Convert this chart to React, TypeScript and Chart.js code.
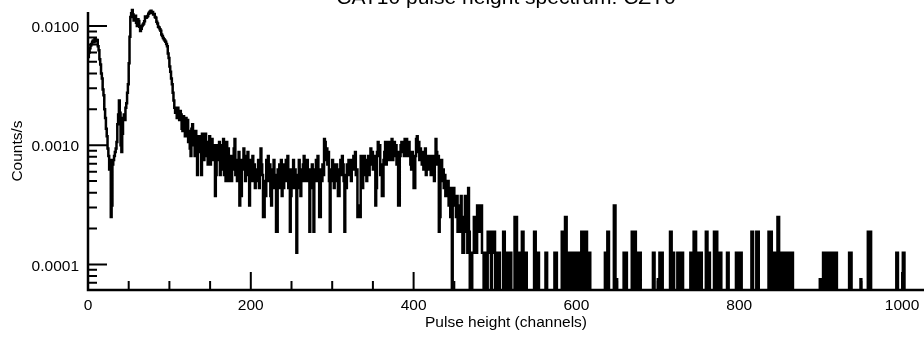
import { useEffect, useRef } from "react";
import { Chart, registerables } from "chart.js";

Chart.register(...registerables);

const TITLE = "CAT10 pulse height spectrum: CZT0";
const X_LABEL = "Pulse height (channels)";
const Y_LABEL = "Counts/s";

const X_TICKS = [0, 200, 400, 600, 800, 1000];
const X_MINOR = [50, 100, 150, 250, 300, 350, 450, 500, 550, 650, 700, 750, 850, 900, 950];
const Y_TICKS = [0.0001, 0.001, 0.01];
const Y_MINOR = [
  7e-5, 8e-5, 9e-5,
  2e-4, 3e-4, 4e-4, 5e-4, 6e-4, 7e-4, 8e-4, 9e-4,
  2e-3, 3e-3, 4e-3, 5e-3, 6e-3, 7e-3, 8e-3, 9e-3,
];

const X_MIN = 0;
const X_MAX = 1027;
const Y_MIN = 6.1e-5;
const Y_MAX = 0.0131;

const N_CHANNELS = 1005;
const RATE_PER_COUNT = 6.25e-5; // counts/s per recorded count
const BELOW_AXIS = 1e-6; // empty channels fall below the axis

// counts per channel, channels 0-127
const PEAK_COUNTS = [
  88, 96, 104, 110, 113, 118, 121, 117, 126, 123, 119, 122, 108, 100, 84, 76,
  64, 58, 47, 42, 32, 27, 22, 19, 15, 13, 10, 12, 4, 5, 11, 12,
  13, 14, 15, 17, 24, 29, 38, 30, 16, 14, 20, 27, 29, 26, 33, 36,
  44, 52, 78, 130, 190, 205, 218, 200, 178, 190, 195, 170, 160, 182, 176, 158,
  145, 152, 160, 164, 168, 175, 192, 188, 190, 194, 203, 208, 212, 215, 206, 210,
  200, 202, 190, 188, 174, 168, 158, 155, 150, 146, 136, 132, 127, 124, 121, 118,
  113, 108, 94, 86, 73, 66, 58, 52, 44, 38, 33, 30, 31, 27, 33, 30,
  26, 31, 29, 22, 21, 28, 25, 19, 27, 20, 26, 17, 21, 15, 13, 22,
];

// channels 128-255
const CONTINUUM_COUNTS = [
  24, 16, 18, 13, 21, 16, 9, 18, 19, 14, 15, 9, 20, 16, 12, 18,
  20, 13, 15, 11, 17, 19, 11, 14, 18, 12, 14, 16, 6, 9, 16, 14,
  12, 17, 9, 15, 10, 16, 18, 9, 13, 8, 17, 12, 15, 8, 11, 13,
  8, 13, 10, 15, 18, 9, 12, 8, 11, 14, 5, 9, 6, 12, 10, 15,
  13, 8, 12, 9, 14, 10, 5, 9, 12, 8, 13, 10, 11, 7, 10, 8,
  9, 12, 7, 10, 15, 11, 9, 4, 4, 8, 6, 12, 9, 13, 8, 11,
  6, 5, 10, 8, 12, 7, 9, 3, 3, 10, 7, 11, 8, 12, 6, 9,
  7, 11, 8, 12, 9, 13, 7, 10, 3, 6, 10, 8, 12, 7, 10, 9,
];

// channels 256-384
const HUMP_RISE_COUNTS = [
  2, 9, 7, 12, 9, 6, 10, 8, 11, 13, 8, 11, 9, 12, 8, 10,
  3, 10, 7, 11, 9, 3, 10, 8, 12, 9, 13, 8, 4, 4, 10, 8,
  11, 9, 18, 17, 12, 15, 11, 14, 8, 3, 10, 8, 12, 9, 7, 11,
  9, 11, 8, 6, 6, 10, 12, 9, 13, 11, 8, 3, 9, 7, 11, 9, 12,
  9, 11, 8, 12, 10, 13, 11, 14, 9, 10, 4, 4, 5, 4, 13, 10,
  7, 11, 13, 9, 12, 8, 10, 13, 9, 12, 15, 11, 14, 10, 13, 11,
  5, 7, 14, 17, 13, 16, 9, 11, 6, 6, 12, 14, 17, 11, 13, 17,
  17, 12, 15, 13, 18, 12, 15, 17, 13, 16, 11, 14, 5, 5, 13, 16,
];

// channels 385-512
const HUMP_FALL_COUNTS = [
  17, 14, 16, 13, 18, 15, 18, 13, 16, 17, 14, 11, 10, 14, 12, 7,
  7, 13, 18, 19, 14, 17, 12, 15, 13, 11, 14, 10, 13, 15, 9, 12,
  11, 13, 10, 12, 9, 13, 10, 12, 8, 13, 18, 14, 11, 13, 3, 4,
  10, 12, 8, 10, 7, 9, 6, 8, 6, 8, 5, 7, 4, 5, 0, 7,
  7, 5, 6, 4, 6, 3, 3, 5, 4, 6, 3, 2, 2, 4, 6, 5,
  3, 2, 7, 3, 0, 0, 0, 2, 2, 4, 4, 2, 2, 5, 5, 3,
  3, 4, 5, 2, 2, 0, 0, 2, 2, 0, 3, 2, 3, 3, 0, 3,
  3, 2, 3, 0, 2, 2, 0, 2, 2, 0, 0, 0, 0, 3, 3, 2,
];

// sparse high-channel events (all other channels above 512 are empty)
const TAIL_CHANNELS = [
  514, 515, 517, 519, 524, 525, 526, 528, 529, 531, 533, 534, 536, 538,
  548, 549, 551, 553, 562, 563, 573, 575, 582, 583, 586, 587, 589, 591,
  593, 594, 596, 598, 600, 602, 604, 606, 607, 609, 610, 612, 613, 615, 616,
  635, 636, 638, 639, 646, 647, 649, 658, 659, 661,
  668, 669, 671, 672, 674, 676, 678, 694, 695, 700, 702, 703, 705,
  715, 716, 718, 719, 724, 726, 728, 730, 740, 742, 744, 745, 746, 749, 751, 753,
  759, 760, 761, 763, 769, 770, 772, 773, 775, 777, 785, 786, 796, 798, 800, 802,
  815, 816, 821, 823, 836, 837, 839, 841, 843, 845, 847, 848, 849, 851, 853, 855,
  859, 861, 863, 865, 899, 903, 905, 907, 909, 913, 915, 917, 919,
  935, 937, 949, 958, 959, 961, 993, 994, 1001, 1002,
];
const TAIL_COUNTS = [
  2, 2, 2, 2, 4, 2, 4, 2, 2, 2, 3, 3, 2, 2,
  3, 3, 2, 2, 2, 2, 2, 2, 3, 3, 4, 4, 2, 2,
  2, 2, 2, 2, 2, 2, 2, 3, 3, 3, 3, 3, 2, 2, 2,
  2, 2, 3, 3, 5, 5, 1.2, 2, 2, 2,
  3, 3, 3, 3, 2, 2, 2, 2, 2, 1.2, 2, 2, 2,
  3, 3, 2, 2, 2, 2, 2, 2, 2, 2, 3, 3, 3, 2, 2, 2,
  3, 3, 2, 2, 3, 3, 3, 2, 2, 2, 2, 2, 2, 2, 2, 2,
  3, 3, 3, 3, 3, 3, 3, 2, 2, 2, 4, 4, 2, 2, 2, 2,
  2, 2, 2, 2, 1.2, 2, 2, 2, 2, 2, 2, 2, 2,
  2, 2, 1.2, 3, 3, 3, 2, 2, 2, 2,
];

const FONT = "'Liberation Sans', Arial, Helvetica, sans-serif";
Chart.defaults.font.family = FONT;
Chart.defaults.color = "#000";

const axesPlugin = {
  id: "insideAxes",
  afterDraw(chart: any) {
    const { ctx, chartArea: a, scales } = chart;
    const xs = scales.x;
    const ys = scales.y;
    ctx.save();
    ctx.strokeStyle = "#000";
    ctx.lineWidth = 2.5;
    ctx.lineCap = "butt";
    ctx.beginPath();
    ctx.moveTo(a.left, a.top);
    ctx.lineTo(a.left, a.bottom);
    ctx.lineTo(a.right, a.bottom);
    ctx.stroke();
    ctx.lineWidth = 2;
    ctx.beginPath();
    for (const v of Y_TICKS) {
      const y = ys.getPixelForValue(v);
      ctx.moveTo(a.left, y);
      ctx.lineTo(a.left + 19, y);
    }
    for (const v of Y_MINOR) {
      const y = ys.getPixelForValue(v);
      ctx.moveTo(a.left, y);
      ctx.lineTo(a.left + 9, y);
    }
    for (const v of X_TICKS) {
      const x = xs.getPixelForValue(v);
      ctx.moveTo(x, a.bottom);
      ctx.lineTo(x, a.bottom - 18);
    }
    for (const v of X_MINOR) {
      const x = xs.getPixelForValue(v);
      ctx.moveTo(x, a.bottom);
      ctx.lineTo(x, a.bottom - 9);
    }
    ctx.stroke();
    ctx.fillStyle = "#000";
    ctx.font = `21px ${FONT}`;
    ctx.textAlign = "center";
    ctx.textBaseline = "alphabetic";
    ctx.fillText(TITLE, (a.left + a.right) / 2, 4);
    ctx.restore();
  },
};

export default function App() {
  const ref = useRef<HTMLCanvasElement>(null);
  useEffect(() => {
    document.body.style.margin = "0";
    const main = [...PEAK_COUNTS, ...CONTINUUM_COUNTS, ...HUMP_RISE_COUNTS, ...HUMP_FALL_COUNTS];
    const counts: number[] = new Array(N_CHANNELS).fill(0);
    main.forEach((c, i) => {
      counts[i] = c;
    });
    TAIL_CHANNELS.forEach((ch, k) => {
      counts[ch] = TAIL_COUNTS[k];
    });
    const points = counts.map((c, ch) => ({
      x: ch,
      y: c > 0 ? c * RATE_PER_COUNT : BELOW_AXIS,
    }));
    const chart = new Chart(ref.current!, {
      type: "line",
      data: {
        datasets: [
          {
            data: points,
            stepped: true,
            borderColor: "#000",
            borderWidth: 2.5,
            pointRadius: 0,
            fill: false,
            clip: { left: 0, top: 6, right: 0, bottom: 0 } as any,
          },
        ],
      },
      plugins: [axesPlugin],
      options: {
        animation: false,
        responsive: false,
        devicePixelRatio: 1,
        events: [],
        layout: { padding: { top: 12, left: 0, right: 0, bottom: 0 } },
        plugins: { legend: { display: false }, tooltip: { enabled: false }, title: { display: false } },
        scales: {
          x: {
            type: "linear",
            min: X_MIN,
            max: X_MAX,
            afterBuildTicks: (s: any) => {
              s.ticks = X_TICKS.map((v) => ({ value: v }));
            },
            afterFit: (s: any) => {
              s.height = 47;
              s.paddingLeft = 0;
              s.paddingRight = 0;
            },
            grid: { display: false, drawTicks: false },
            border: { display: false },
            ticks: {
              autoSkip: false,
              maxRotation: 0,
              padding: 6,
              color: "#000",
              font: { size: 15.5 },
              callback: (v: any) => String(v),
            },
            title: {
              display: true,
              text: X_LABEL,
              color: "#000",
              font: { size: 15.5 },
              padding: { top: 0, bottom: 5 },
            },
          },
          y: {
            type: "logarithmic",
            min: Y_MIN,
            max: Y_MAX,
            afterBuildTicks: (s: any) => {
              s.ticks = Y_TICKS.map((v) => ({ value: v }));
            },
            afterFit: (s: any) => {
              s.width = 88;
              s.paddingTop = 0;
              s.paddingBottom = 0;
            },
            grid: { display: false, drawTicks: false },
            border: { display: false },
            ticks: {
              autoSkip: false,
              padding: 9,
              labelOffset: 2,
              color: "#000",
              font: { size: 15.5 },
              callback: (v: any) => Number(v).toFixed(4),
            },
            title: {
              display: true,
              text: Y_LABEL,
              color: "#000",
              font: { size: 15.5 },
              padding: { top: 8, bottom: 0 },
            },
          },
        },
      } as any,
    });
    return () => chart.destroy();
  }, []);
  return (
    <canvas
      ref={ref}
      width={924}
      height={337}
      style={{ display: "block", width: 924, height: 337 }}
    />
  );
}
